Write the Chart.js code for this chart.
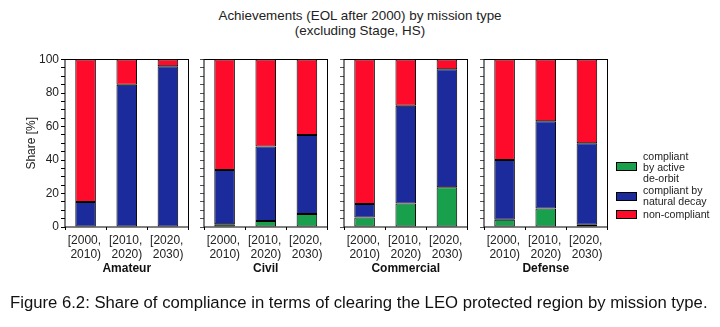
<!DOCTYPE html>
<html>
<head>
<meta charset="utf-8">
<script src="https://cdn.jsdelivr.net/npm/chart.js@4.4.0/dist/chart.umd.min.js"></script>
<style>
  body { margin: 0; background: #fff; width: 720px; height: 327px; overflow: hidden; position: relative; font-family: "Liberation Sans", Arial, sans-serif; }
  canvas { position: absolute; left: 0; top: 0; }
  .title { position: absolute; left: 0; width: 720px; text-align: center; font-size: 13.4px; color: #222; line-height: 15px; top: 8px; }
  .caption { position: absolute; left: 10px; top: 293px; font-size: 16.7px; color: #111; white-space: nowrap; }
  .leg { position: absolute; font-size: 10.6px; line-height: 11px; color: #222; }
  .box { position: absolute; width: 19px; height: 7px; border: 1px solid #000; }
</style>
</head>
<body>
<div class="title">Achievements (EOL after 2000) by mission type<br>(excluding Stage, HS)</div>
<canvas id="p0" width="720" height="327"></canvas>
<canvas id="p1" width="720" height="327"></canvas>
<canvas id="p2" width="720" height="327"></canvas>
<canvas id="p3" width="720" height="327"></canvas>
<div id="legend"></div>
<div class="caption">Figure 6.2: Share of compliance in terms of clearing the LEO protected region by mission type.</div>
<script>
// mission types and periods
const missionTypes = ['Amateur', 'Civil', 'Commercial', 'Defense'];
const periods = [['[2000,', '2010)'], ['[2010,', '2020)'], ['[2020,', '2030)']];
const yTicks = [0, 20, 40, 60, 80, 100];

// share [%] per mission type, one row per panel
const activeDeorbit = [
    [null, null, null],
    [1.6, 3.6, 7.8],
    [5.6, 14.0, 23.7],
    [4.4, 11.0, 1.4]
];
const naturalDecay = [
    [15.0, 85.0, 96.0],
    [32.4, 44.4, 47.2],
    [8.1, 58.4, 70.5],
    [35.6, 52.2, 48.6]
];
const nonCompliant = [
    [85.0, 15.0, 4.0],
    [66.0, 52.0, 45.0],
    [86.3, 27.6, 5.8],
    [60.0, 36.8, 50.0]
];

const seriesNames = [['compliant', 'by active', 'de-orbit'], ['compliant by', 'natural decay'], ['non-compliant']];
const GREEN = '#19a04c';
const BLUE = '#1c2b9b';
const RED = '#fe0a2b';

const panelLefts = [65, 204, 344, 484];
const panelWidth = 123.5;
const Y_W = 45;

// frame around each panel
const framePlugin = {
    id: 'frame',
    afterDraw(chart) {
        const a = chart.chartArea;
        const ctx = chart.ctx;
        ctx.save();
        ctx.strokeStyle = '#000';
        ctx.lineWidth = 1;
        ctx.strokeRect(a.left, a.top, a.right - a.left, a.bottom - a.top);
        ctx.restore();
    }
};

function makePanel(i) {
    const left = panelLefts[i];
    const right = left + panelWidth;
    const bar = (label, data, color) => ({
        label: label.join(' '),
        data: data,
        backgroundColor: color,
        borderColor: '#000',
        borderWidth: 1,
        borderSkipped: false,
        barPercentage: 0.5,
        categoryPercentage: 1.0
    });
    new Chart(document.getElementById('p' + i), {
        type: 'bar',
        data: {
            labels: periods,
            datasets: [
                bar(seriesNames[0], activeDeorbit[i], GREEN),
                bar(seriesNames[1], naturalDecay[i], BLUE),
                bar(seriesNames[2], nonCompliant[i], RED)
            ]
        },
        options: {
            responsive: false,
            animation: false,
            layout: { padding: { left: left - Y_W, right: 720 - right, top: 59.5, bottom: 51 } },
            plugins: { legend: { display: false }, tooltip: { enabled: false } },
            scales: {
                x: {
                    stacked: true,
                    grid: { drawOnChartArea: false, tickLength: 3, color: '#000' },
                    border: { display: false },
                    ticks: {
                        color: '#222', font: { family: 'Liberation Sans', size: 12 },
                        maxRotation: 0, autoSkip: false, padding: 3,
                        align: 'end', labelOffset: 15.5
                    },
                    title: { display: true, text: missionTypes[i], color: '#111', font: { family: 'Liberation Sans', size: 12, weight: 'bold' }, padding: { top: 0, bottom: 0 } },
                    afterFit: s => { s.height = 49; }
                },
                y: {
                    stacked: true,
                    min: 0,
                    max: 100,
                    grid: { drawOnChartArea: false, tickLength: 4, color: i === 0 ? '#000' : '#555' },
                    border: { display: false },
                    ticks: {
                        stepSize: 5,
                        autoSkip: false,
                        padding: 2,
                        color: '#222',
                        font: { family: 'Liberation Sans', size: 12 },
                        callback: v => (i === 0 && yTicks.includes(v)) ? v : ''
                    },
                    title: { display: i === 0, text: 'Share [%]', color: '#222', font: { family: 'Liberation Sans', size: 12 } },
                    afterFit: s => { s.width = Y_W; }
                }
            }
        },
        plugins: [framePlugin]
    });
}

for (let i = 0; i < missionTypes.length; i++) makePanel(i);

// legend on the right
const legendEl = document.getElementById('legend');
const legColors = [GREEN, BLUE, RED];
const boxTops = [162, 192, 210];
const textTops = [151, 185, 209];
seriesNames.forEach((lines, k) => {
    const b = document.createElement('div');
    b.className = 'box';
    b.style.left = '616px';
    b.style.top = boxTops[k] + 'px';
    b.style.background = legColors[k];
    legendEl.appendChild(b);
    const t = document.createElement('div');
    t.className = 'leg';
    t.style.left = '643px';
    t.style.top = textTops[k] + 'px';
    t.innerHTML = lines.join('<br>');
    legendEl.appendChild(t);
});
</script>
</body>
</html>
